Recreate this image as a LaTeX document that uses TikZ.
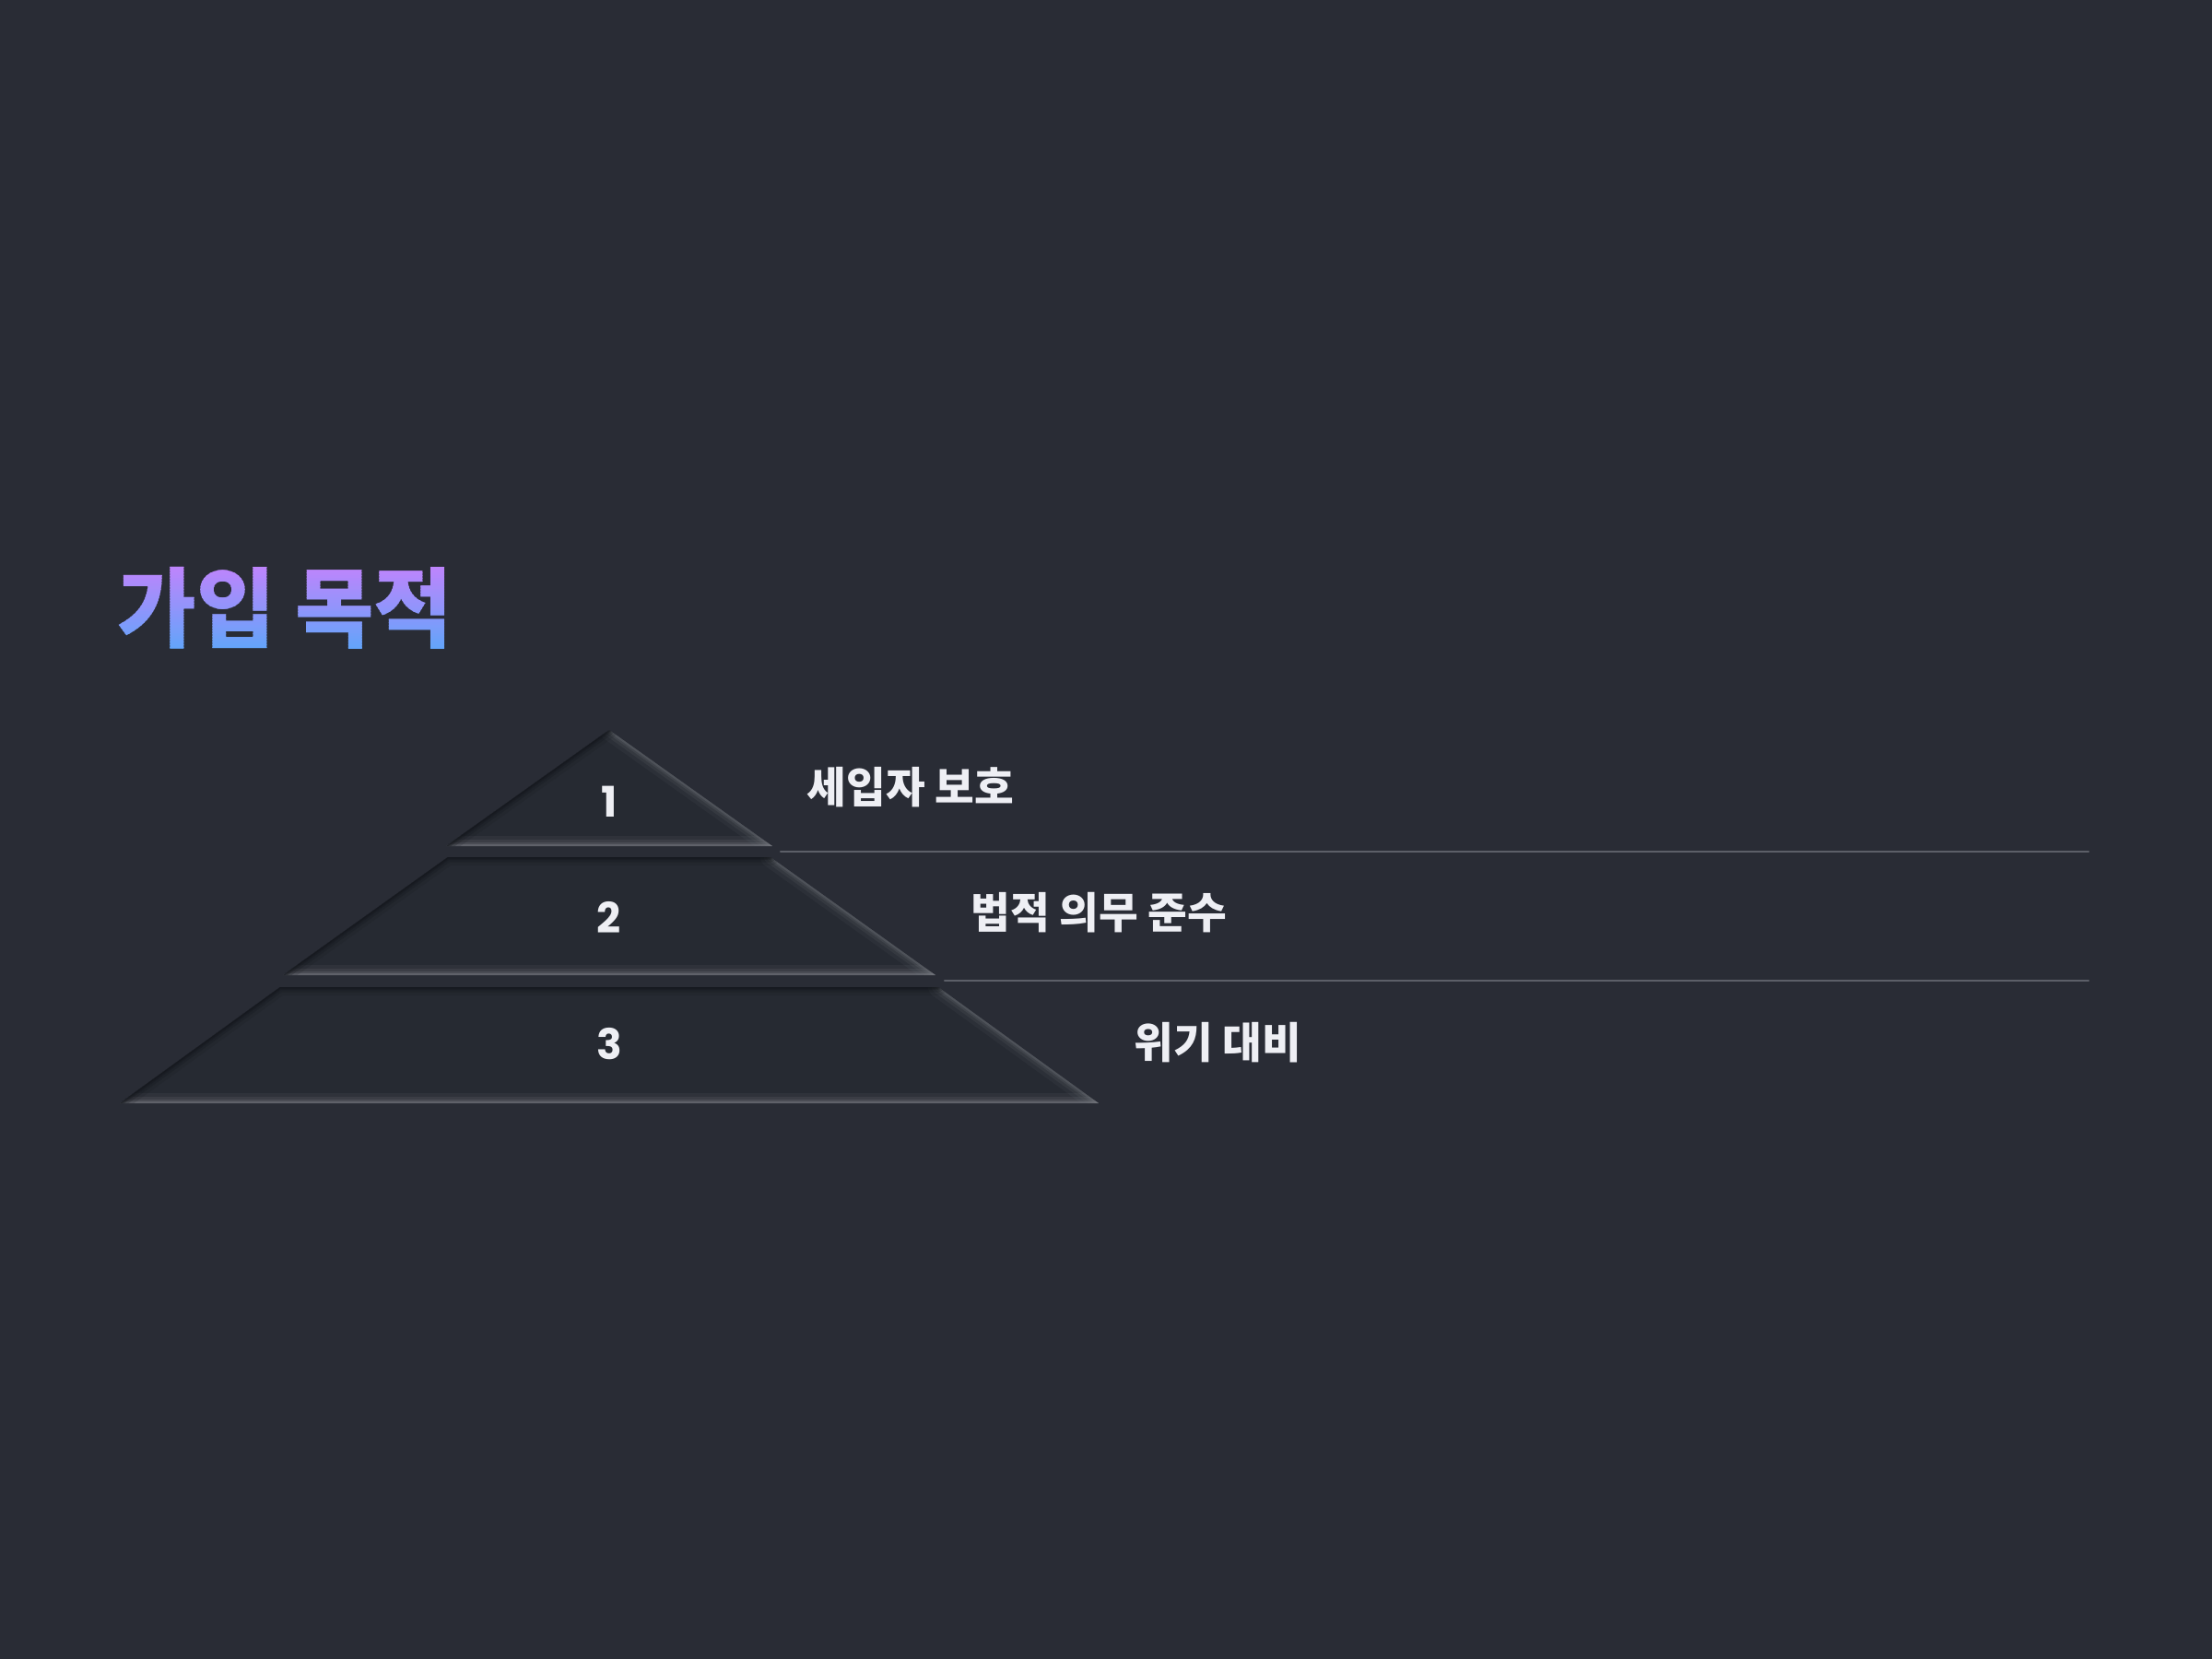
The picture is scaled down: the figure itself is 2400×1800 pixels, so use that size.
\documentclass[tikz,border=0pt]{standalone}
\usepackage{fontspec}
\newfontfamily\kofont{Noto Sans CJK KR}
\newfontfamily\numfont{Poppins}

\definecolor{bgcol}{HTML}{292C35}
\definecolor{tierfill}{HTML}{262A32}
\definecolor{tiershade}{HTML}{13161B}
\definecolor{tierlight}{HTML}{80828A}
\definecolor{tierside}{HTML}{6A6D74}
\definecolor{rulecol}{HTML}{5C5F68}
\definecolor{labelcol}{HTML}{EEEFF4}
\definecolor{titletop}{HTML}{C084FC}
\definecolor{titlebot}{HTML}{60A5FA}

\tikzset{
  titlefont/.style={font=\kofont\bfseries\fontsize{27}{27}\selectfont,
    anchor=west, inner sep=0pt},
  tiernum/.style={font=\numfont\bfseries\fontsize{13}{13}\selectfont,
    text=labelcol, inner sep=0pt},
  tierlabel/.style={font=\kofont\bfseries\fontsize{13.2}{13.2}\selectfont,
    text=labelcol, anchor=west, inner sep=0pt},
  rule/.style={draw=rulecol, line width=0.6pt},
}

\begin{document}
\begin{tikzpicture}[x=0.01cm, y=-0.01cm, line join=round, line cap=round]

  %--- Background (fixes the 2400 x 1800 frame) -----------------------------
  \fill[bgcol] (0,0) rectangle (2400,1800);

  %--- Tier corners ---------------------------------------------------------
  \coordinate (T1a)  at ( 661, 792);
  \coordinate (T1l)  at ( 484, 918);
  \coordinate (T1r)  at ( 838, 918);
  \coordinate (T2tl) at ( 486, 930);
  \coordinate (T2tr) at ( 836, 930);
  \coordinate (T2bl) at ( 307,1058);
  \coordinate (T2br) at (1015,1058);
  \coordinate (T3tl) at ( 304,1071);
  \coordinate (T3tr) at (1018,1071);
  \coordinate (T3bl) at ( 130,1197);
  \coordinate (T3br) at (1192,1197);

  %--- Tiers (inset look: dark rim top/left, light rim bottom/right) -------
  \foreach \tl/\tr/\bl/\br in {T1a/T1a/T1l/T1r, T2tl/T2tr/T2bl/T2br,
                               T3tl/T3tr/T3bl/T3br} {
    \fill[tierfill] (\tl) -- (\tr) -- (\br) -- (\bl) -- cycle;
    \begin{scope}
      \clip (\tl) -- (\tr) -- (\br) -- (\bl) -- cycle;
      \foreach \w/\o in {22/0.10, 14/0.15, 8/0.22, 4/0.35}
        \draw[tierside, line width=\w*0.2845pt, opacity=\o] (\tr) -- (\br);
      \foreach \w/\o in {22/0.10, 14/0.15, 8/0.22, 4/0.40}
        \draw[tierlight, line width=\w*0.2845pt, opacity=\o] (\br) -- (\bl);
      \foreach \w/\o in {18/0.15, 11/0.25, 6/0.35, 3/0.45}
        \draw[tiershade, line width=\w*0.2845pt, opacity=\o]
          (\bl) -- (\tl) -- (\tr);
    \end{scope}
  }

  %--- Tier numbers ---------------------------------------------------------
  \node[tiernum] (n1) at (661, 870) {1};
  \node[tiernum] (n2) at (661, 995) {2};
  \node[tiernum] (n3) at (661,1133) {3};

  %--- Tier labels ----------------------------------------------------------
  \node[tierlabel] (l1) at ( 875, 854) {세입자 보호};
  \node[tierlabel] (l2) at (1053, 990) {법적 의무 준수};
  \node[tierlabel] (l3) at (1230,1131) {위기 대비};

  %--- Separator rules ------------------------------------------------------
  \coordinate (R1a) at ( 847, 924);
  \coordinate (R1b) at (2266, 924);
  \coordinate (R2a) at (1025,1064);
  \coordinate (R2b) at (2266,1064);
  \draw[rule] (R1a) -- (R1b);
  \draw[rule] (R2a) -- (R2b);

  %--- Title, purple to blue from top to bottom (horizontal strips) -------
  \foreach \i in {0,...,31} {
    \pgfmathsetmacro{\pct}{100*(1-\i/31)}
    \pgfmathsetmacro{\ya}{ifthenelse(\i==0, 540, 612+3*\i)}
    \pgfmathsetmacro{\yb}{ifthenelse(\i==31, 780, 615.6+3*\i)}
    \begin{scope}
      \clip (100,\ya) rectangle (560,\yb);
      \node[titlefont, text=titletop!\pct!titlebot] (title\i) at (127,660)
        {\scalebox{0.98}[1]{가입 목적}};
    \end{scope}
  }

\end{tikzpicture}
\end{document}
